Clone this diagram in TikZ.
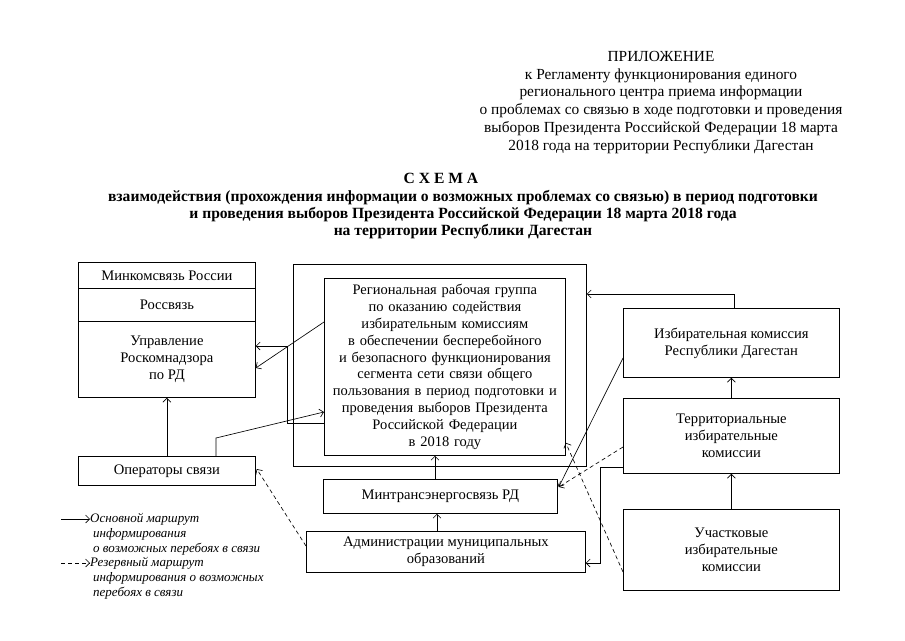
\documentclass[tikz,border=0pt]{standalone}
\usepackage{fontspec}
\setmainfont{Liberation Serif}
\usetikzlibrary{arrows.meta,calc}
\begin{document}
\begin{tikzpicture}[x=1pt,y=-1pt,
  box/.style={draw, line width=0.75pt, align=center, inner sep=2pt, anchor=north west, font=\fontsize{14.6}{17}\selectfont},
  arr/.style={line width=0.65pt, -{Straight Barb[length=4pt,width=8pt]}},
  darr/.style={arr, dash pattern=on 4pt off 3pt},
  hdr/.style={inner sep=0pt, align=center, font=\fontsize{15.4}{17.8}\selectfont},
  ttl/.style={inner sep=0pt, align=center, font=\bfseries\fontsize{15.6}{17}\selectfont},
  leg/.style={inner sep=0pt, anchor=west, font=\itshape\fontsize{13}{15}\selectfont},
]
\useasboundingbox[fill=white] (0,0) rectangle (905,640);

% header
\node[hdr, anchor=north] (head) at (661,51) {ПРИЛОЖЕНИЕ\\к Регламенту функционирования единого\\регионального центра приема информации\\о проблемах со связью в ходе подготовки и проведения\\выборов Президента Российской Федерации 18 марта\\2018 года на территории Республики Дагестан};

% title
\node[ttl] (t1) at (441,178) {С Х Е М А};
\node[ttl, anchor=north] (t2) at (463,190) {взаимодействия (прохождения информации о возможных проблемах со связью) в период подготовки\\и проведения выборов Президента Российской Федерации 18 марта 2018 года\\на территории Республики Дагестан};

% left column
\node[box, minimum width=177pt, minimum height=26pt] (mink) at (78,262) {Минкомсвязь России};
\node[box, minimum width=177pt, minimum height=33pt] (ross) at (78,288) {Россвязь};
\node[box, minimum width=177pt, minimum height=76pt] (rkn) at (78,321) {Управление\\Роскомнадзора\\по РД};
\node[box, minimum width=177pt, minimum height=29pt] (ops) at (78,456) {Операторы связи};

% centre
\node[box, minimum width=293pt, minimum height=202pt] (outer) at (293,264) {};
\node[box, minimum width=241pt, minimum height=177pt, text width=237pt, font=\fontsize{14.5}{16.8}\selectfont] (inner) at (324,278) {Региональная рабочая группа\\по оказанию содействия\\избирательным комиссиям\\в обеспечении бесперебойного\\и безопасного функционирования\\сегмента сети связи общего\\пользования в период подготовки и\\проведения выборов Президента\\Российской Федерации\\в 2018 году};
\node[box, minimum width=234pt, minimum height=34pt] (mint) at (323,479) {Минтрансэнергосвязь РД};
\node[box, minimum width=279pt, minimum height=41pt] (adm) at (306,531) {Администрации муниципальных\\образований};

% right column
\node[box, minimum width=216pt, minimum height=69pt] (izb) at (623,308) {Избирательная комиссия\\Республики Дагестан};
\node[box, minimum width=216pt, minimum height=75pt] (terr) at (623,398) {Территориальные\\избирательные\\комиссии};
\node[box, minimum width=216pt, minimum height=81pt] (uch) at (623,509) {Участковые\\избирательные\\комиссии};

% solid connectors
\draw[arr] (ops.north) -- (rkn.south);
\draw[arr] ($(inner.north west)+(0,44)$) -- ($(rkn.north east)+(0,47)$);
\draw[arr] ($(inner.north west)+(0,145)$) -- ++(-37,0) |- ($(rkn.north east)+(0,25)$);
\draw[arr] ($(ops.north west)+(138,0)$) -- ++(0,-18) -- ($(inner.north west)+(0,134)$);
\draw[arr] ($(mint.north west)+(112,0)$) coordinate (m1) -- (m1 |- inner.south);
\draw[arr] ($(adm.north west)+(131,0)$) coordinate (a1) -- (a1 |- mint.south);
\draw[arr] (uch.north) -- (terr.south);
\draw[arr] (terr.north) -- (izb.south);
\draw[arr] ($(izb.north west)+(111,0)$) |- ($(outer.north east)+(0,30)$);
\draw[arr] ($(izb.north west)+(0,50)$) -- ($(mint.north east)+(1,8)$);
\draw[arr] ($(terr.south west)+(0,-6)$) -- ++(-23,0) |- ($(adm.north east)+(0,32)$);

% dashed connectors
\draw[darr] ($(terr.north west)+(0,49)$) -- ($(mint.north east)+(1,8)$);
\draw[darr] ($(uch.north west)+(0,63)$) -- ($(inner.south east)+(0,-13)$);
\draw[darr] ($(adm.north west)+(0,15)$) -- ($(ops.north east)+(1,13)$);

% legend
\coordinate (l1) at (61,519);
\coordinate (l2) at (61,563);
\node[leg] (la1) at (90,519) {Основной маршрут};
\node[leg] (la2) at (93,534) {информирования};
\node[leg] (la3) at (93,549) {о возможных перебоях в связи};
\node[leg] (lb1) at (90,563) {Резервный маршрут};
\node[leg] (lb2) at (93,578) {информирования о возможных};
\node[leg] (lb3) at (93,593) {перебоях в связи};
\draw[arr] (l1) -- (la1.west);
\draw[darr] (l2) -- (lb1.west);
\end{tikzpicture}
\end{document}
